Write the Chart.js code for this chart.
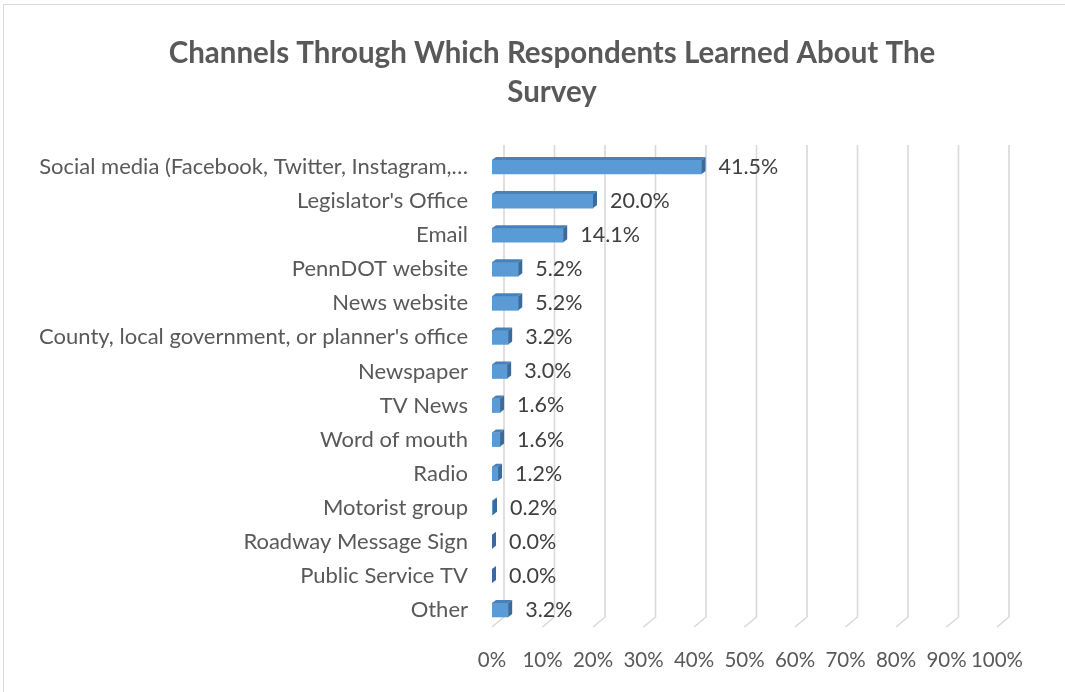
<!DOCTYPE html>
<html>
<head>
<meta charset="utf-8">
<script src="https://cdn.jsdelivr.net/npm/chart.js@4"></script>
<style>
  body { margin: 0; background: #fff; }
  #wrap { width: 1065px; height: 692px; position: relative; }
</style>
</head>
<body>
<div id="wrap"><canvas id="chart"></canvas></div>
<script>
const categories = [
  'Social media (Facebook, Twitter, Instagram,…',
  "Legislator's Office",
  'Email',
  'PennDOT website',
  'News website',
  "County, local government, or planner's office",
  'Newspaper',
  'TV News',
  'Word of mouth',
  'Radio',
  'Motorist group',
  'Roadway Message Sign',
  'Public Service TV',
  'Other',
];
const shares = [41.5, 20.0, 14.1, 5.2, 5.2, 3.2, 3.0, 1.6, 1.6, 1.2, 0.2, 0.0, 0.0, 3.2];
const xTickValues = [0, 10, 20, 30, 40, 50, 60, 70, 80, 90, 100];
const titleLines = ['Channels Through Which Respondents Learned About The', 'Survey'];

const FONT = 'Lato, "Open Sans", sans-serif';
const DEPTH_X = 4;
const DEPTH_Y = 3;

// white background, thin frame and the two-line heading
const frame = {
  id: 'frame',
  beforeDraw(chart) {
    const ctx = chart.ctx;
    ctx.save();
    ctx.fillStyle = '#fff';
    ctx.fillRect(0, 0, chart.width, chart.height);
    ctx.strokeStyle = '#d9d9d9';
    ctx.lineWidth = 1;
    ctx.strokeRect(3.5, 4.5, chart.width + 10, chart.height + 10);

    ctx.fillStyle = '#595959';
    ctx.font = 'bold 29.5px ' + FONT;
    ctx.textAlign = 'center';
    ctx.textBaseline = 'middle';
    titleLines.forEach((line, i) => {
      ctx.fillText(line, 552, 53 + i * 39);
    });
    ctx.restore();
  },
};

// back-wall gridlines with the little floor bend at the bottom
const wallGrid = {
  id: 'wallGrid',
  beforeDatasetsDraw(chart) {
    const ctx = chart.ctx;
    const area = chart.chartArea;
    const xs = chart.scales.x;
    ctx.save();
    ctx.strokeStyle = '#d9d9d9';
    ctx.lineWidth = 1.6;
    xTickValues.forEach((v) => {
      const x = xs.getPixelForValue(v);
      ctx.beginPath();
      ctx.moveTo(x + 12, area.top - 5);
      ctx.lineTo(x + 12, area.bottom - 10);
      ctx.lineTo(x, area.bottom);
      ctx.stroke();
    });
    ctx.restore();
  },
};

// top and side faces of each bar, then the value labels
const bars3d = {
  id: 'bars3d',
  afterDatasetsDraw(chart) {
    const ctx = chart.ctx;
    const meta = chart.getDatasetMeta(0);
    ctx.save();
    meta.data.forEach((bar, i) => {
      const left = bar.base;
      const right = bar.x;
      const top = bar.y - bar.height / 2;
      const bottom = bar.y + bar.height / 2;

      ctx.fillStyle = '#4a80b8';
      ctx.beginPath();
      ctx.moveTo(left, top);
      ctx.lineTo(left + DEPTH_X, top - DEPTH_Y);
      ctx.lineTo(right + DEPTH_X, top - DEPTH_Y);
      ctx.lineTo(right, top);
      ctx.closePath();
      ctx.fill();

      ctx.fillStyle = '#3a6b9c';
      ctx.beginPath();
      ctx.moveTo(right, top);
      ctx.lineTo(right + DEPTH_X, top - DEPTH_Y);
      ctx.lineTo(right + DEPTH_X, bottom - DEPTH_Y);
      ctx.lineTo(right, bottom);
      ctx.closePath();
      ctx.fill();

      ctx.fillStyle = '#404040';
      ctx.font = '21.5px ' + FONT;
      ctx.textAlign = 'left';
      ctx.textBaseline = 'middle';
      ctx.fillText(shares[i].toFixed(1) + '%', right + 17, bar.y);
    });
    ctx.restore();
  },
};

new Chart(document.getElementById('chart'), {
  type: 'bar',
  data: {
    labels: categories,
    datasets: [
      {
        data: shares,
        backgroundColor: '#5b9bd5',
        borderWidth: 0,
        barThickness: 14,
      },
    ],
  },
  options: {
    indexAxis: 'y',
    responsive: true,
    maintainAspectRatio: false,
    animation: false,
    layout: {
      padding: { top: 150, left: 0, right: 68, bottom: 0 },
    },
    plugins: {
      legend: { display: false },
      tooltip: { enabled: false },
      title: { display: false },
    },
    scales: {
      x: {
        min: 0,
        max: 100,
        afterFit(scale) {
          scale.height = 65;
        },
        afterBuildTicks(scale) {
          scale.ticks = xTickValues.map((v) => ({ value: v }));
        },
        grid: { display: false, drawTicks: false },
        border: { display: false },
        ticks: {
          padding: 21,
          color: '#595959',
          font: { family: FONT, size: 20.5 },
          maxRotation: 0,
          autoSkip: false,
          callback: (v) => v + '%',
        },
      },
      y: {
        afterFit(scale) {
          scale.width = 492;
        },
        grid: { display: false, drawTicks: false },
        border: { display: false },
        ticks: {
          padding: 24,
          color: '#595959',
          font: { family: FONT, size: 22 },
          autoSkip: false,
        },
      },
    },
  },
  plugins: [frame, wallGrid, bars3d],
});
</script>
</body>
</html>
